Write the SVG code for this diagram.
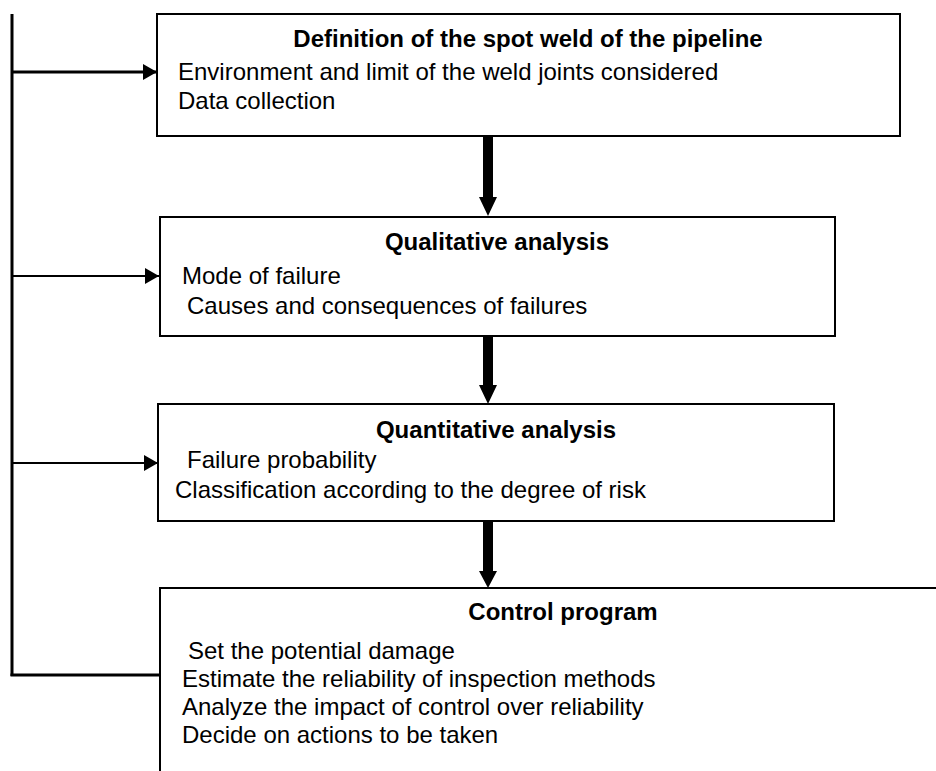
<svg xmlns="http://www.w3.org/2000/svg" width="936" height="771" viewBox="0 0 936 771">
<style>
.box{fill:#fff;stroke:#000;stroke-width:2}
.t{font-family:"Liberation Sans",Arial,sans-serif;font-size:24px;fill:#000}
.b{font-weight:bold;text-anchor:middle}
.ln{stroke:#000;fill:none}
</style>
<defs>
<marker id="ah" markerUnits="userSpaceOnUse" markerWidth="14" markerHeight="16" refX="14" refY="8" orient="auto" viewBox="0 0 14 16">
<path d="M0,0 L14,8 L0,16 Z" fill="#000"/>
</marker>
</defs>
<rect width="936" height="771" fill="#fff"/>
<g id="connectors">
<line class="ln" x1="12" y1="14" x2="12" y2="676" stroke-width="3"/>
<line class="ln" x1="10.5" y1="675" x2="160" y2="675" stroke-width="3"/>
<line class="ln" x1="12" y1="72" x2="157" y2="72" stroke-width="3" marker-end="url(#ah)"/>
<line class="ln" x1="12" y1="276" x2="159" y2="276" stroke-width="2" marker-end="url(#ah)"/>
<line class="ln" x1="12" y1="463" x2="158" y2="463" stroke-width="2" marker-end="url(#ah)"/>
<path d="M483,136 H493 V197 H497 L488,216 L479,197 H483 Z" fill="#000"/>
<path d="M483,336 H493 V385 H497 L488,404 L479,385 H483 Z" fill="#000"/>
<path d="M483,521 H493 V571 H497 L488,588 L479,571 H483 Z" fill="#000"/>
</g>
<g id="n1">
<rect class="box" x="157" y="14" width="743" height="122"/>
<text class="t b" x="528" y="47">Definition of the spot weld of the pipeline</text>
<text class="t" x="178" y="80">Environment and limit of the weld joints considered</text>
<text class="t" x="178" y="109">Data collection</text>
</g>
<g id="n2">
<rect class="box" x="160" y="217" width="675" height="119"/>
<text class="t b" x="497" y="250">Qualitative analysis</text>
<text class="t" x="182" y="284">Mode of failure</text>
<text class="t" x="187" y="314">Causes and consequences of failures</text>
</g>
<g id="n3">
<rect class="box" x="158" y="404" width="676" height="117"/>
<text class="t b" x="496" y="438">Quantitative analysis</text>
<text class="t" x="187" y="468">Failure probability</text>
<text class="t" x="175" y="498">Classification according to the degree of risk</text>
</g>
<g id="n4">
<path class="ln" d="M936,588 H160 V771" stroke-width="2"/>
<text class="t b" x="563" y="620">Control program</text>
<text class="t" x="188" y="659">Set the potential damage</text>
<text class="t" x="182" y="687">Estimate the reliability of inspection methods</text>
<text class="t" x="182" y="715">Analyze the impact of control over reliability</text>
<text class="t" x="182" y="743">Decide on actions to be taken</text>
</g>
</svg>
